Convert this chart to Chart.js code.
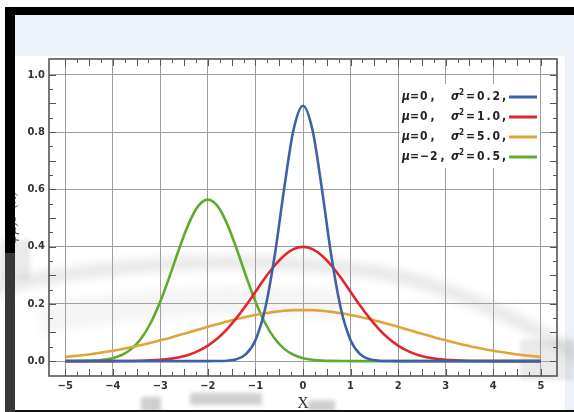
<!DOCTYPE html>
<html>
<head>
<meta charset="utf-8">
<script src="https://cdn.jsdelivr.net/npm/chart.js@4"></script>
<style>
  html, body { margin: 0; padding: 0; background: #fff; }
  #grafico { position: absolute; left: 0; top: 0; }
</style>
</head>
<body>
<canvas id="grafico" width="574" height="412"></canvas>
<script>
// valores (x de -5 a 5, paso 0.2)
const valoresX = [-5, -4.8, -4.6, -4.4, -4.2, -4, -3.8, -3.6, -3.4, -3.2, -3, -2.8, -2.6, -2.4, -2.2,
  -2, -1.8, -1.6, -1.4, -1.2, -1, -0.8, -0.6, -0.4, -0.2, 0, 0.2, 0.4, 0.6, 0.8, 1, 1.2, 1.4, 1.6, 1.8, 2,
  2.2, 2.4, 2.6, 2.8, 3, 3.2, 3.4, 3.6, 3.8, 4, 4.2, 4.4, 4.6, 4.8, 5];

const curvaAzul = [0, 0, 0, 0, 0, 0, 0, 0, 0, 0, 0, 0, 0, 0, 0,
  0, 0.0003, 0.0015, 0.0066, 0.0244, 0.0732, 0.180, 0.363, 0.598, 0.807, 0.892, 0.807, 0.598, 0.363, 0.180, 0.0732,
  0.0244, 0.0066, 0.0015, 0.0003, 0, 0, 0, 0, 0, 0, 0, 0, 0, 0, 0, 0, 0, 0, 0, 0];

const curvaRoja = [0, 0, 0, 0, 0.0001, 0.0001, 0.0003, 0.0006, 0.0012, 0.0024, 0.0044, 0.0079, 0.0136, 0.0224, 0.0355,
  0.054, 0.079, 0.111, 0.150, 0.194, 0.242, 0.290, 0.333, 0.368, 0.391, 0.399, 0.391, 0.368, 0.333, 0.290, 0.242,
  0.194, 0.150, 0.111, 0.079, 0.054, 0.0355, 0.0224, 0.0136, 0.0079, 0.0044, 0.0024, 0.0012, 0.0006, 0.0003, 0.0001,
  0.0001, 0, 0, 0, 0];

const curvaNaranja = [0.0146, 0.0178, 0.0215, 0.026, 0.031, 0.036, 0.042, 0.049, 0.056, 0.064, 0.073, 0.081, 0.091, 0.100, 0.110,
  0.120, 0.129, 0.138, 0.147, 0.154, 0.161, 0.167, 0.172, 0.176, 0.178, 0.178, 0.178, 0.176, 0.172, 0.167, 0.161,
  0.154, 0.147, 0.138, 0.129, 0.120, 0.110, 0.100, 0.091, 0.081, 0.073, 0.064, 0.056, 0.049, 0.042, 0.036,
  0.031, 0.026, 0.0215, 0.0178, 0.0146];

const curvaVerde = [0.0001, 0.0002, 0.0007, 0.0018, 0.0045, 0.0103, 0.0221, 0.0436, 0.0795, 0.134, 0.208, 0.298, 0.394, 0.481, 0.542,
  0.564, 0.542, 0.481, 0.394, 0.298, 0.208, 0.134, 0.0795, 0.0436, 0.0221, 0.0103, 0.0045, 0.0018, 0.0007, 0.0002, 0.0001,
  0, 0, 0, 0, 0, 0, 0, 0, 0, 0, 0, 0, 0, 0, 0, 0, 0, 0, 0, 0];

const medias = ["0", "0", "0", "\u22122"];
const varianzas = ["0.2", "1.0", "5.0", "0.5"];
const colores = ["#3b62a6", "#e1272b", "#dfa53a", "#5dac2c"];

const ticksX = [-5, -4, -3, -2, -1, 0, 1, 2, 3, 4, 5];
const etiquetasX = ["\u22125", "\u22124", "\u22123", "\u22122", "\u22121", "0", "1", "2", "3", "4", "5"];
const ticksY = [0, 0.2, 0.4, 0.6, 0.8, 1.0];
const etiquetasY = ["0.0", "0.2", "0.4", "0.6", "0.8", "1.0"];

const fuente = '"DejaVu Sans Condensed", "DejaVu Sans", sans-serif';

const series = [curvaAzul, curvaRoja, curvaNaranja, curvaVerde];
const datasets = series.map((serie, i) => ({
  label: `\u03bc=${medias[i]}, \u03c3\u00b2=${varianzas[i]},`,
  data: valoresX.map((x, j) => ({ x, y: serie[j] })),
  borderColor: colores[i],
  borderWidth: 2.6,
  pointRadius: 0,
  cubicInterpolationMode: "monotone",
  fill: false
}));

// fondo de "foto": banda azul, manchas grises
const fondo = {
  id: "fondo",
  beforeDraw(chart) {
    const ctx = chart.ctx;
    ctx.save();
    ctx.fillStyle = "#ffffff";
    ctx.fillRect(0, 0, 574, 412);
    ctx.fillStyle = "#edf1f9";
    ctx.fillRect(15, 15, 559, 41);
    ctx.fillRect(565, 15, 9, 397);
    ctx.restore();
  },
  beforeDatasetsDraw(chart) {
    const ctx = chart.ctx;
    ctx.save();
    ctx.filter = "blur(5px)";
    ctx.strokeStyle = "rgba(175,175,175,0.28)";
    ctx.lineWidth = 14;
    ctx.beginPath();
    ctx.moveTo(-10, 290);
    ctx.bezierCurveTo(110, 258, 320, 250, 430, 285);
    ctx.bezierCurveTo(500, 308, 545, 335, 590, 362);
    ctx.stroke();
    ctx.strokeStyle = "rgba(190,190,190,0.16)";
    ctx.lineWidth = 30;
    ctx.beginPath();
    ctx.moveTo(40, 320);
    ctx.bezierCurveTo(150, 300, 260, 295, 340, 305);
    ctx.stroke();
    ctx.filter = "blur(2px)";
    ctx.fillStyle = "rgba(160,160,160,0.5)";
    ctx.fillRect(141, 397, 20, 15);
    ctx.fillRect(190, 393, 72, 12);
    ctx.fillRect(308, 400, 27, 12);
    ctx.fillStyle = "rgba(170,170,170,0.25)";
    ctx.fillRect(520, 340, 54, 40);
    ctx.fillRect(0, 240, 30, 40);
    ctx.restore();

    // marco y marcas menores
    const { left, right, top, bottom } = chart.chartArea;
    const sx = chart.scales.x;
    const sy = chart.scales.y;
    ctx.save();
    ctx.strokeStyle = "#555";
    ctx.lineWidth = 1;
    ctx.beginPath();
    for (let v = -5; v <= 5.001; v += 0.25) {
      const px = Math.round(sx.getPixelForValue(v)) + 0.5;
      const largo = Math.abs(v * 2 - Math.round(v * 2)) < 0.01 ? 7 : 4;
      ctx.moveTo(px, bottom); ctx.lineTo(px, bottom - largo);
      ctx.moveTo(px, top); ctx.lineTo(px, top + largo);
    }
    for (let v = 0; v <= 1.0001; v += 0.05) {
      const py = Math.round(sy.getPixelForValue(v)) + 0.5;
      const largo = Math.abs(v * 10 - Math.round(v * 10)) < 0.01 ? 7 : 4;
      ctx.moveTo(left, py); ctx.lineTo(left + largo, py);
      ctx.moveTo(right, py); ctx.lineTo(right - largo, py);
    }
    ctx.stroke();
    ctx.lineWidth = 1.6;
    ctx.strokeRect(left, top, right - left, bottom - top);
    ctx.restore();
  },
  afterDatasetsDraw(chart) {
    // leyenda
    const ctx = chart.ctx;
    ctx.save();
    ctx.fillStyle = "#fff";
    ctx.fillRect(399.5, 84, 140.5, 84);
    ctx.fillStyle = "#222";
    ctx.textBaseline = "middle";
    medias.forEach((mu, i) => {
      const y = 97 + i * 20;
      ctx.letterSpacing = "0px";
      ctx.font = `italic bold 12px ${fuente}`;
      ctx.fillText("\u03bc", 402, y);
      ctx.fillText("\u03c3", 451, y);
      ctx.font = `bold 12px ${fuente}`;
      ctx.fillText("=", 410, y);
      ctx.fillText("=", 466, y);
      ctx.letterSpacing = "1px";
      ctx.fillText(mu, 420, y);
      const w = ctx.measureText(mu).width;
      ctx.fillText(",", 420 + w + 2, y);
      ctx.letterSpacing = "2px";
      ctx.fillText(varianzas[i], 477, y);
      ctx.letterSpacing = "0px";
      ctx.fillText(",", 502, y);
      ctx.font = `bold 8px ${fuente}`;
      ctx.fillText("2", 459, y - 4);

      ctx.strokeStyle = colores[i];
      ctx.lineWidth = 3;
      ctx.beginPath();
      ctx.moveTo(509, y);
      ctx.lineTo(537, y);
      ctx.stroke();
    });
    ctx.restore();
  },
  afterDraw(chart) {
    const ctx = chart.ctx;
    ctx.save();
    ctx.fillStyle = "#000";
    ctx.fillRect(6, 7, 568, 8);
    ctx.fillRect(5, 7, 10, 246);
    ctx.fillStyle = "#383838";
    ctx.fillRect(5, 253, 10, 159);
    ctx.fillStyle = "#111";
    ctx.fillRect(15, 410, 559, 2);
    ctx.restore();
  }
};

new Chart(document.getElementById("grafico"), {
  type: "line",
  data: { datasets },
  plugins: [fondo],
  options: {
    responsive: false,
    animation: false,
    devicePixelRatio: 1,
    layout: { padding: { top: 59, right: 17, left: 0, bottom: 0 } },
    plugins: { legend: { display: false }, tooltip: { enabled: false } },
    scales: {
      x: {
        type: "linear",
        min: -5.34,
        max: 5.34,
        afterBuildTicks: s => { s.ticks = ticksX.map(v => ({ value: v })); },
        afterFit: s => { s.height = 36; },
        ticks: {
          autoSkip: false,
          maxRotation: 0,
          padding: 4,
          color: "#333",
          font: { family: fuente, size: 11, weight: "bold" },
          callback: v => etiquetasX[ticksX.indexOf(v)]
        },
        grid: { color: "#9c9c9c", lineWidth: 1, drawTicks: false },
        border: { display: false },
        title: {
          display: true,
          text: "X",
          color: "#333",
          font: { family: '"Liberation Serif", serif', size: 16 },
          padding: { top: 0, bottom: -1 }
        }
      },
      y: {
        type: "linear",
        min: -0.052,
        max: 1.055,
        afterBuildTicks: s => { s.ticks = ticksY.map(v => ({ value: v })); },
        afterFit: s => { s.width = 49; },
        ticks: {
          padding: 4,
          color: "#333",
          font: { family: fuente, size: 11, weight: "bold" },
          callback: v => etiquetasY[ticksY.indexOf(v)]
        },
        grid: { color: "#9c9c9c", lineWidth: 1, drawTicks: false },
        border: { display: false },
        title: {
          display: true,
          text: "\u03c6\u03bc,\u03c3\u00b2(x)",
          color: "#555",
          font: { family: '"DejaVu Serif", serif', size: 13, style: "italic" },
          padding: { top: 5, bottom: 0 }
        }
      }
    }
  }
});
</script>
</body>
</html>
